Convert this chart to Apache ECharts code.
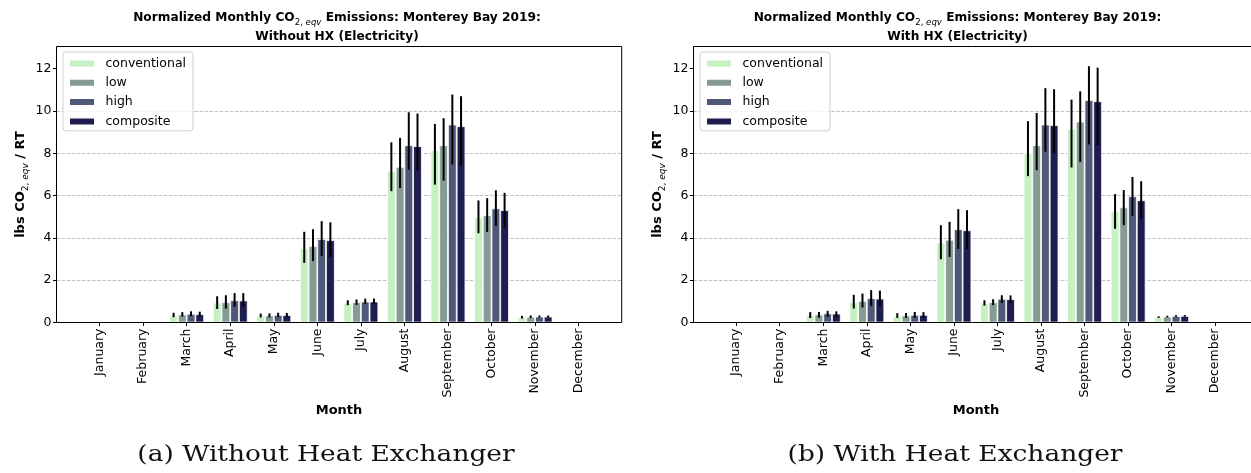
<!DOCTYPE html>
<html>
<head>
<meta charset="utf-8">
<script src="https://cdn.jsdelivr.net/npm/echarts@6/dist/echarts.min.js"></script>
<style>
  html, body { margin: 0; padding: 0; background: #ffffff; }
  #chart { width: 1251px; height: 473px; }
</style>
</head>
<body>
<div id="chart"></div>
<script>
// ---- data -------------------------------------------------------------
const months = ['January', 'February', 'March', 'April', 'May', 'June',
  'July', 'August', 'September', 'October', 'November', 'December'];
const schemes = ['conventional', 'low', 'high', 'composite'];
const yTicks = [0, 2, 4, 6, 8, 10, 12];

// Without heat exchanger (lbs CO2,eqv / RT), with error-bar bounds
const noHxConventional   = [0, 0, 0.34, 0.94, 0.31, 3.51, 0.93, 7.17, 8.14, 4.99, 0.25, 0];
const noHxConventionalLo = [null, null, 0.25, 0.64, 0.24, 2.82, 0.82, 6.21, 6.52, 4.22, 0.19, null];
const noHxConventionalHi = [null, null, 0.46, 1.24, 0.42, 4.29, 1.05, 8.52, 9.39, 5.77, 0.31, null];
const noHxLow            = [0, 0, 0.38, 0.96, 0.33, 3.62, 0.96, 7.36, 8.38, 5.07, 0.27, 0];
const noHxLowLo          = [null, null, 0.28, 0.66, 0.24, 2.90, 0.83, 6.36, 6.71, 4.28, 0.21, null];
const noHxLowHi          = [null, null, 0.49, 1.29, 0.43, 4.41, 1.09, 8.73, 9.66, 5.88, 0.33, null];
const noHxHigh           = [0, 0, 0.41, 1.05, 0.36, 3.94, 0.99, 8.38, 9.36, 5.40, 0.28, 0];
const noHxHighLo         = [null, null, 0.30, 0.74, 0.26, 3.15, 0.88, 7.23, 7.48, 4.57, 0.23, null];
const noHxHighHi         = [null, null, 0.53, 1.39, 0.46, 4.79, 1.13, 9.94, 10.78, 6.25, 0.33, null];
const noHxComposite      = [0, 0, 0.39, 1.04, 0.35, 3.89, 0.99, 8.34, 9.28, 5.31, 0.28, 0];
const noHxCompositeLo    = [null, null, 0.29, 0.74, 0.26, 3.10, 0.88, 7.20, 7.44, 4.49, 0.23, null];
const noHxCompositeHi    = [null, null, 0.51, 1.39, 0.45, 4.74, 1.13, 9.88, 10.70, 6.13, 0.33, null];

// With heat exchanger
const hxConventional   = [0, 0, 0.35, 0.97, 0.30, 3.78, 0.91, 8.02, 9.15, 5.25, 0.25, 0];
const hxConventionalLo = [null, null, 0.21, 0.66, 0.22, 2.99, 0.80, 6.92, 7.33, 4.43, 0.21, null];
const hxConventionalHi = [null, null, 0.49, 1.31, 0.44, 4.60, 1.05, 9.52, 10.54, 6.07, 0.29, null];
const hxLow            = [0, 0, 0.38, 1.02, 0.33, 3.91, 0.96, 8.38, 9.50, 5.44, 0.28, 0];
const hxLowLo          = [null, null, 0.23, 0.71, 0.22, 3.10, 0.82, 7.20, 7.59, 4.60, 0.24, null];
const hxLowHi          = [null, null, 0.50, 1.37, 0.45, 4.76, 1.10, 9.91, 10.93, 6.26, 0.32, null];
const hxHigh           = [0, 0, 0.43, 1.15, 0.36, 4.41, 1.12, 9.36, 10.51, 5.97, 0.31, 0];
const hxHighLo         = [null, null, 0.27, 0.77, 0.22, 3.48, 0.93, 8.07, 8.42, 5.04, 0.27, null];
const hxHighHi         = [null, null, 0.55, 1.53, 0.50, 5.36, 1.29, 11.08, 12.12, 6.88, 0.35, null];
const hxComposite      = [0, 0, 0.42, 1.13, 0.36, 4.36, 1.10, 9.33, 10.46, 5.78, 0.31, 0];
const hxCompositeLo    = [null, null, 0.25, 0.77, 0.22, 3.48, 0.93, 8.02, 8.37, 4.90, 0.27, null];
const hxCompositeHi    = [null, null, 0.53, 1.51, 0.49, 5.31, 1.28, 11.03, 12.05, 6.68, 0.35, null];

// ---- styling ----------------------------------------------------------
const colors = ['#c4f0c2', '#869b93', '#4f5977', '#1f1d4f'];
const SANS = 'DejaVu Sans';
const Y_MAX = 13.05;
const PLOT_TOP = 46.5, PLOT_H = 276;
const FRAME_W = 565.2, BAND_W = 522.6;

const panels = [
  {
    frameLeft: 56.5, bandLeft: 77.8, titleX: 337, ylabelX: 21, monthX: 339, captionX: 326,
    subtitle: 'Without HX (Electricity)', caption: '(a) Without Heat Exchanger',
    values: [noHxConventional, noHxLow, noHxHigh, noHxComposite],
    lo: [noHxConventionalLo, noHxLowLo, noHxHighLo, noHxCompositeLo],
    hi: [noHxConventionalHi, noHxLowHi, noHxHighHi, noHxCompositeHi]
  },
  {
    frameLeft: 693.5, bandLeft: 714.4, titleX: 957.5, ylabelX: 657.8, monthX: 976, captionX: 955,
    subtitle: 'With HX (Electricity)', caption: '(b) With Heat Exchanger',
    values: [hxConventional, hxLow, hxHigh, hxComposite],
    lo: [hxConventionalLo, hxLowLo, hxHighLo, hxCompositeLo],
    hi: [hxConventionalHi, hxLowHi, hxHighHi, hxCompositeHi]
  }
];

const grid = [], xAxis = [], yAxis = [], series = [], legend = [], graphic = [];

const titleRich = {
  b: { fontFamily: SANS, fontWeight: 'bold', fontSize: 12.2, lineHeight: 19, color: '#000' },
  s: { fontFamily: SANS, fontSize: 8.6, lineHeight: 10.6, verticalAlign: 'bottom', color: '#000' },
  i: { fontFamily: SANS, fontSize: 8.6, fontStyle: 'italic', lineHeight: 10.6, verticalAlign: 'bottom', color: '#000' }
};
const ylabRich = {
  b: { fontFamily: SANS, fontWeight: 'bold', fontSize: 13, lineHeight: 19, color: '#000' },
  s: { fontFamily: SANS, fontSize: 9, lineHeight: 10.6, verticalAlign: 'bottom', color: '#000' },
  i: { fontFamily: SANS, fontSize: 9, fontStyle: 'italic', lineHeight: 10.6, verticalAlign: 'bottom', color: '#000' }
};

panels.forEach((p) => {
  const gFrame = grid.length;
  // frame grid: y ticks and dashed gridlines across the full axes width
  grid.push({ left: p.frameLeft, top: PLOT_TOP, width: FRAME_W, height: PLOT_H });
  // band grid: month categories and bars
  grid.push({ left: p.bandLeft, top: PLOT_TOP, width: BAND_W, height: PLOT_H });

  xAxis.push({ gridIndex: gFrame, type: 'value', min: 0, max: 1, show: false });
  yAxis.push({
    gridIndex: gFrame, type: 'value', min: 0, max: Y_MAX, interval: 2,
    axisLine: { show: false },
    axisTick: { show: true, length: 3.5, lineStyle: { color: '#000', width: 1 }, customValues: yTicks },
    axisLabel: { fontFamily: SANS, fontSize: 12.5, color: '#000', margin: 5, customValues: yTicks,
      formatter: v => (yTicks.indexOf(v) >= 0 ? String(v) : '') },
    splitLine: { show: true, showMinLine: false, showMaxLine: false,
      lineStyle: { color: '#b0b0b0', width: 0.8, type: [3.5, 1.6] } }
  });
  const xi = xAxis.length, yi = yAxis.length;
  xAxis.push({
    gridIndex: gFrame + 1, type: 'category', data: months, boundaryGap: true,
    axisLine: { show: false },
    axisTick: { show: true, alignWithLabel: true, interval: 0, length: 3.5, lineStyle: { color: '#000', width: 1 } },
    axisLabel: { interval: 0, rotate: 90, fontFamily: SANS, fontSize: 12.5, color: '#000', margin: 6 }
  });
  yAxis.push({ gridIndex: gFrame + 1, type: 'value', min: 0, max: Y_MAX, show: false, splitLine: { show: false } });

  schemes.forEach((name, k) => {
    series.push({
      type: 'bar', name, xAxisIndex: xi, yAxisIndex: yi,
      data: p.values[k], barWidth: '20%', barGap: '0%',
      itemStyle: { color: colors[k], borderColor: '#ffffff', borderWidth: 0.8 },
      emphasis: { disabled: true }, z: 2
    });
  });
  schemes.forEach((name, k) => {
    const lo = p.lo[k], hi = p.hi[k];
    const data = [];
    months.forEach((m, i) => { if (lo[i] != null) data.push([i, lo[i], hi[i]]); });
    series.push({
      type: 'custom', name: name + ' error', xAxisIndex: xi, yAxisIndex: yi, z: 5, silent: true,
      encode: { x: 0, y: [1, 2] },
      data,
      renderItem(params, api) {
        const i = api.value(0);
        const band = api.size([1, 0])[0];
        const x = api.coord([i, 0])[0] + (k - 1.5) * band * 0.2;
        const y1 = api.coord([i, api.value(1)])[1];
        const y2 = api.coord([i, api.value(2)])[1];
        return { type: 'line', shape: { x1: x, y1, x2: x, y2 },
          style: { stroke: '#000', lineWidth: 2 } };
      }
    });
  });

  legend.push({
    data: schemes, orient: 'vertical', left: p.frameLeft + 6.5, top: 52,
    icon: 'rect', itemWidth: 26, itemHeight: 8, itemGap: 4.3,
    padding: [4, 7, 2, 5], borderColor: '#d0d0d0', borderWidth: 1, borderRadius: 3,
    backgroundColor: 'rgba(255,255,255,0.8)',
    selectedMode: false, z: 20,
    textStyle: { fontFamily: SANS, fontSize: 12.5, color: '#000', lineHeight: 15, padding: [0, 0, 0, 5.5] }
  });

  // axes frame drawn above the bars
  graphic.push({
    type: 'rect', z: 10, silent: true,
    shape: { x: p.frameLeft, y: PLOT_TOP, width: FRAME_W, height: PLOT_H },
    style: { fill: null, stroke: '#000', lineWidth: 1 }
  });
  graphic.push({
    type: 'text', x: p.titleX, y: 8, silent: true,
    style: {
      text: '{b|Normalized Monthly CO}{s|2, }{i|eqv}{b| Emissions: Monterey Bay 2019:}\n{b|' + p.subtitle + '}',
      rich: titleRich, align: 'center', verticalAlign: 'top', fill: '#000'
    }
  });
  graphic.push({
    type: 'text', x: p.ylabelX, y: PLOT_TOP + PLOT_H / 2, rotation: Math.PI / 2, silent: true,
    style: {
      text: '{b|lbs CO}{s|2, }{i|eqv}{b| / RT}',
      rich: ylabRich, align: 'center', verticalAlign: 'middle', fill: '#000'
    }
  });
  graphic.push({
    type: 'text', x: p.monthX, y: 411, silent: true,
    style: { text: 'Month', font: 'bold 13px "DejaVu Sans"', align: 'center', verticalAlign: 'middle', fill: '#000' }
  });
  graphic.push({
    type: 'text', x: p.captionX, y: 455, scaleX: 1.15, silent: true,
    style: { text: p.caption, font: '23px "DejaVu Serif"', align: 'center', verticalAlign: 'middle', fill: '#111' }
  });
});

const chart = echarts.init(document.getElementById('chart'), null, { renderer: 'canvas' });
chart.setOption({
  animation: false,
  backgroundColor: '#ffffff',
  grid, xAxis, yAxis, series, legend, graphic
});
</script>
</body>
</html>
